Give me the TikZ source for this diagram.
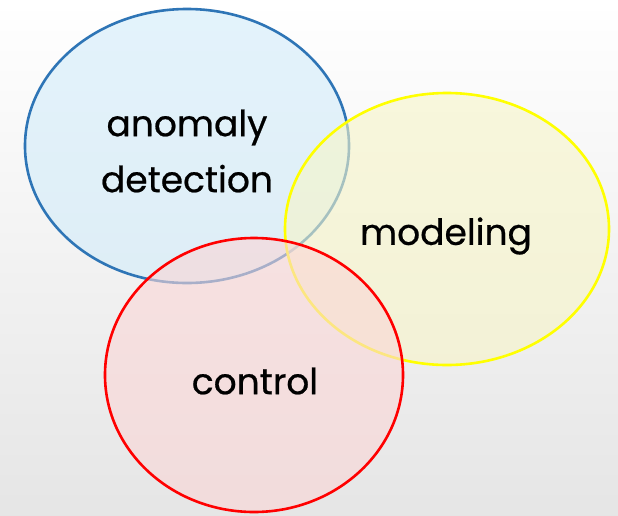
\documentclass[tikz,border=0pt]{standalone}
\usepackage{fontspec}
\setmainfont{Poppins}[FakeBold=0.6]
\usetikzlibrary{shapes.geometric}
\definecolor{blueline}{HTML}{2E75B6}
\definecolor{bluefill}{HTML}{D2ECFA}
\definecolor{yellowline}{HTML}{FFFF00}
\definecolor{yellowfill}{HTML}{F7F5C8}
\definecolor{redline}{HTML}{FF0000}
\definecolor{redfill}{HTML}{FAD6D6}
\tikzset{
  venn/.style={ellipse, inner sep=0pt, outer sep=0pt, line width=2.6pt, fill opacity=0.6},
  lbl/.style={font=\fontsize{36}{56}\selectfont, text=black, align=center, inner sep=0pt}
}
\begin{document}
\begin{tikzpicture}[x=1pt,y=-1pt]
  % background
  \shade[top color=white, middle color=gray!7, bottom color=gray!20, shading angle=0] (0,0) rectangle (618,515);
  \useasboundingbox (0,0) rectangle (618,515);
  % circles of the diagram, back to front
  \node[venn, draw=blueline, fill=bluefill, minimum width=324pt, minimum height=274pt] (ad) at (187,146) {};
  \node[venn, draw=yellowline, fill=yellowfill, minimum width=324pt, minimum height=272pt] (mo) at (447,229) {};
  \node[venn, draw=redline, fill=redfill, minimum width=298pt, minimum height=274pt] (co) at (254,375) {};
  % labels
  \node[lbl] (adt) at (187,151) {anomaly\\detection};
  \node[lbl] (mot) at (446,236) {modeling};
  \node[lbl] (cot) at (255,381) {control};
\end{tikzpicture}
\end{document}
